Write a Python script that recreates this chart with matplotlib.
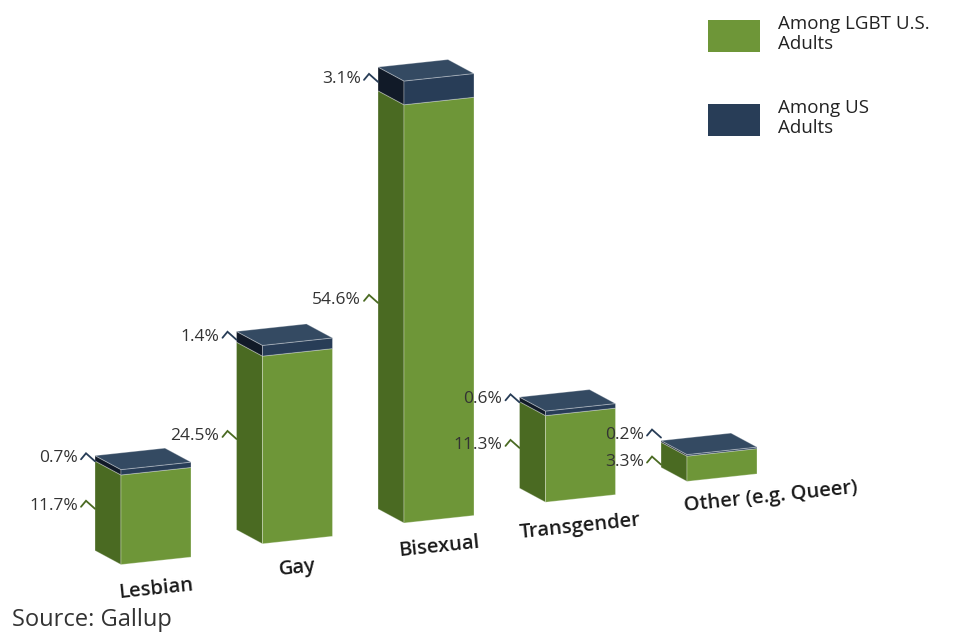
import matplotlib.pyplot as plt
from matplotlib.patches import Polygon

categories = ['Lesbian', 'Gay', 'Bisexual', 'Transgender', 'Other (e.g. Queer)']
lgbt_share = [11.7, 24.5, 54.6, 11.3, 3.3]    # among LGBT U.S. adults
us_share = [0.7, 1.4, 3.1, 0.6, 0.2]          # among US adults
series_names = ['Among LGBT U.S.\nAdults', 'Among US\nAdults']

# colours (front, side) per series, top face colour
GREEN = '#6e9638'
GREEN_SIDE = '#4a6a22'
NAVY = '#283d57'
NAVY_SIDE = '#111a28'
NAVY_TOP = '#344a62'
EDGE = (1, 1, 1, 0.3)

plt.rcParams['font.family'] = ['Open Sans', 'DejaVu Sans']

fig = plt.figure(figsize=(9.56, 6.36), dpi=100)
ax = fig.add_axes([0, 0, 1, 1])
ax.set_xlim(0, 956)
ax.set_ylim(636, 0)
ax.axis('off')

# pseudo 3d projection of the floor / boxes (pixel layout)
X0, Y0 = 404, 523          # front-left foot of the middle bar
STEP_X, STEP_Y = 141.5, -20.8
W = (70, -7.5)             # width direction
D = (-26, -14)             # depth direction
PX_PER_PCT = 7.66


def proj(i, u, d, h):
    x = X0 + STEP_X * (i - 2) + W[0] * u + D[0] * d
    y = Y0 + STEP_Y * (i - 2) + W[1] * u + D[1] * d - PX_PER_PCT * h
    return (x, y)


def face(pts, color):
    ax.add_patch(Polygon(pts, closed=True, facecolor=color, edgecolor=EDGE, lw=0.7))


def callout(x, y, txt, color):
    ax.plot([x - 14, x - 9, x], [y + 1, y - 5, y + 3], color=color, lw=1.3,
            solid_capstyle='round', solid_joinstyle='miter')
    ax.text(x - 17, y, txt, ha='right', va='center', fontsize=12.5, color='#333333')


label_ha = ['center', 'center', 'center', 'center', 'left']

for i, (g, n) in enumerate(zip(lgbt_share, us_share)):
    segs = [(0, g, GREEN, GREEN_SIDE), (g, g + n, NAVY, NAVY_SIDE)]
    for lo, hi, c_front, c_side in segs:
        # left side face
        face([proj(i, 0, 1, lo), proj(i, 0, 0, lo), proj(i, 0, 0, hi), proj(i, 0, 1, hi)], c_side)
        # front face
        face([proj(i, 0, 0, lo), proj(i, 1, 0, lo), proj(i, 1, 0, hi), proj(i, 0, 0, hi)], c_front)
    top = g + n
    face([proj(i, 0, 0, top), proj(i, 1, 0, top), proj(i, 1, 1, top), proj(i, 0, 1, top)], NAVY_TOP)

    # value callouts on the back-left edge
    lx = proj(i, 0, 1, 0)[0]
    yg = (proj(i, 0, 1, 0)[1] + proj(i, 0, 1, g)[1]) / 2
    yn = (proj(i, 0, 1, g)[1] + proj(i, 0, 1, top)[1]) / 2
    gap = yg - yn
    if gap < 27:
        yg += (27 - gap) / 2
        yn -= (27 - gap) / 2
    callout(lx, yg, f'{g}%', GREEN_SIDE)
    callout(lx, yn, f'{n}%', NAVY)

    # category label under the front face
    fx, fy = proj(i, 0.5, 0, 0)
    if label_ha[i] == 'left':
        fx = proj(i, 0, 0, 0)[0] - 3
    ax.text(fx, fy + 28, categories[i], ha=label_ha[i], va='center', rotation=6,
            rotation_mode='anchor', fontsize=14.5, fontweight='semibold', color='#1a1a1a')

# legend
for k, (name, col) in enumerate(zip(series_names, [GREEN, NAVY])):
    ytop = 20 + 84 * k
    ax.add_patch(Polygon([(708, ytop), (760, ytop), (760, ytop + 32), (708, ytop + 32)],
                         closed=True, facecolor=col, edgecolor='none'))
    ax.text(778, ytop + 14, name, ha='left', va='center', fontsize=13.5,
            color='#222222', linespacing=1.2)

ax.text(12, 620, 'Source: Gallup', ha='left', va='center', fontsize=17, color='#333333')

fig.savefig('out.png', dpi=100)
